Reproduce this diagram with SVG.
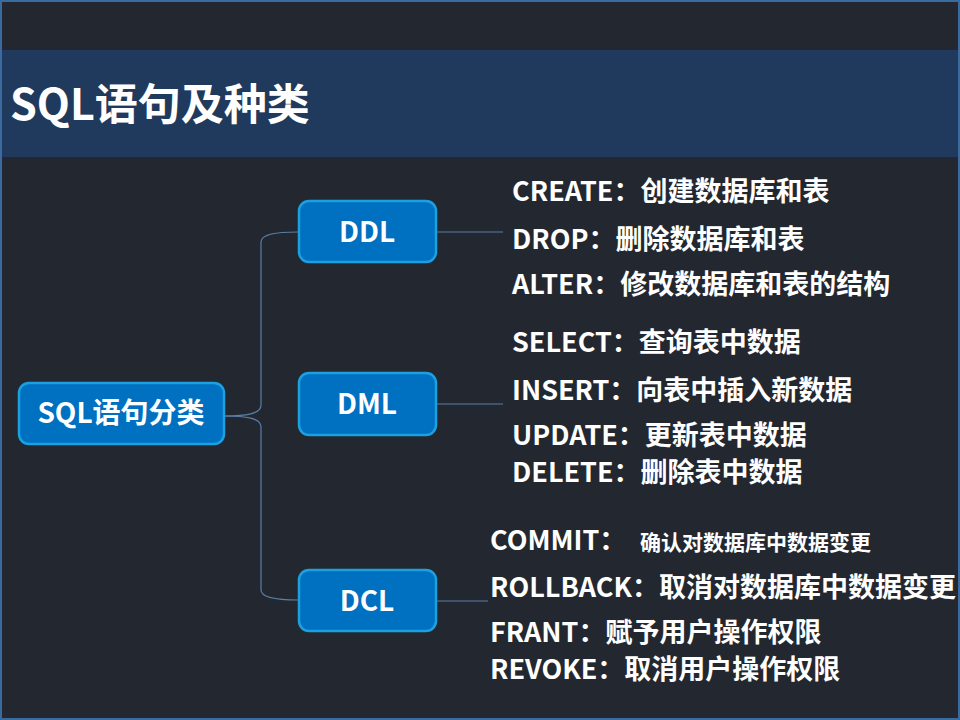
<svg xmlns="http://www.w3.org/2000/svg" width="960" height="720" viewBox="0 0 960 720">
<style>
.t{font-family:"Microsoft YaHei","Noto Sans CJK SC","Noto Sans",sans-serif;font-weight:bold;fill:#ffffff}
.node{fill:#0070c0;stroke:#1ba1e2;stroke-width:2.5}
.lbl{font-size:27px}
.nt{font-size:28px;text-anchor:middle}
.conn{fill:none;stroke:#5b7ea6;stroke-width:1.2}
</style>
<rect x="0" y="0" width="960" height="720" fill="#232830"/>
<rect x="0" y="50" width="960" height="107" fill="#1f3a5c"/>
<rect x="1" y="1" width="958" height="718" fill="none" stroke="#3a6aa0" stroke-width="2"/>
<text class="t" x="10" y="120" font-size="43">SQL语句及种类</text>

<g id="connectors">
<path class="conn" d="M224,416 C246,416 261,414 261,405 L261,242 C261,234 276,232 298,232"/>
<path class="conn" d="M224,416 C246,416 261,418 261,427 L261,590 C261,597 276,600 298,600"/>
<path class="conn" d="M437,232 L503,232"/>
<path class="conn" d="M437,404 L503,404"/>
<path class="conn" d="M437,601 L488,601"/>
</g>

<g id="root">
<rect class="node" x="19" y="383" width="205" height="61" rx="10"/>
<text class="t nt" x="121" y="423" font-size="25">SQL语句分类</text>
</g>
<g id="ddl">
<rect class="node" x="299" y="201" width="137" height="61" rx="10"/>
<text class="t nt" x="367" y="242">DDL</text>
</g>
<g id="dml">
<rect class="node" x="299" y="373" width="137" height="62" rx="10"/>
<text class="t nt" x="367" y="414">DML</text>
</g>
<g id="dcl">
<rect class="node" x="299" y="570" width="137" height="61" rx="10"/>
<text class="t nt" x="367" y="611">DCL</text>
</g>

<g id="ddl-items">
<text class="t lbl" x="512" y="201">CREATE：创建数据库和表</text>
<text class="t lbl" x="512" y="249">DROP：删除数据库和表</text>
<text class="t lbl" x="512" y="294">ALTER：修改数据库和表的结构</text>
</g>
<g id="dml-items">
<text class="t lbl" x="512" y="352">SELECT：查询表中数据</text>
<text class="t lbl" x="512" y="400">INSERT：向表中插入新数据</text>
<text class="t lbl" x="512" y="445">UPDATE：更新表中数据</text>
<text class="t lbl" x="512" y="482">DELETE：删除表中数据</text>
</g>
<g id="dcl-items">
<text class="t lbl" x="490" y="550">COMMIT：<tspan x="640" font-size="21">确认对数据库中数据变更</tspan></text>
<text class="t lbl" x="490" y="597">ROLLBACK：取消对数据库中数据变更</text>
<text class="t lbl" x="490" y="642">FRANT：赋予用户操作权限</text>
<text class="t lbl" x="490" y="679">REVOKE：取消用户操作权限</text>
</g>
</svg>
